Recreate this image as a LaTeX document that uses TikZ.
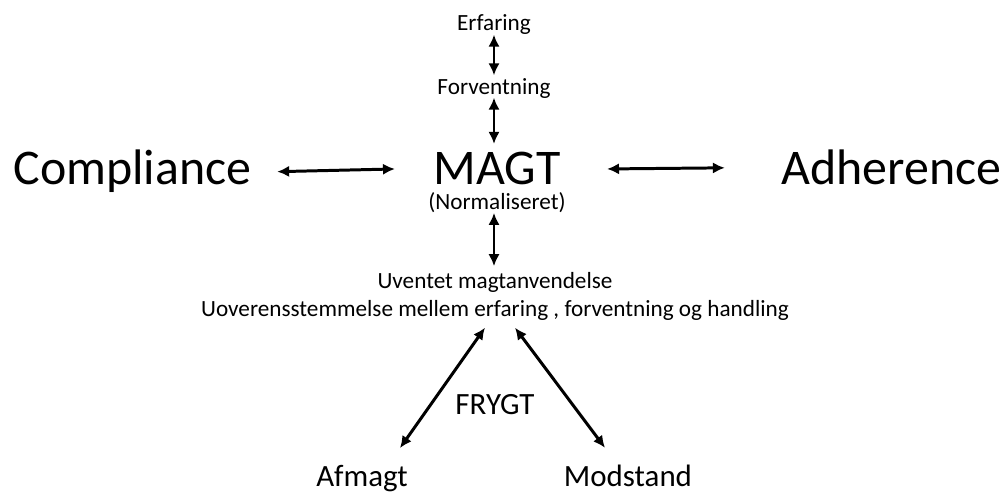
\documentclass[tikz,border=0pt]{standalone}
\usepackage{fontspec}
\setmainfont{Carlito}
\usepackage{tikz}
\usetikzlibrary{positioning,calc,arrows.meta}
\definecolor{MagtBlack}{RGB}{0,0,0}
\tikzset{
    bigword/.style={inner sep=0pt, font=\fontsize{14.2}{16}\selectfont, text=MagtBlack},
    smallword/.style={inner sep=0pt, font=\fontsize{6.6}{8}\selectfont, text=MagtBlack},
    fearword/.style={inner sep=0pt, font=\fontsize{8.8}{10}\selectfont, text=MagtBlack},
    dblarrow/.style={draw=MagtBlack, line width=0.85pt, {Latex[length=3.4pt,width=3.2pt]}-{Latex[length=3.4pt,width=3.2pt]}}
}
\begin{document}
\begin{tikzpicture}
        % fast ramme (samme proportioner som forlaegget)
        \useasboundingbox (-4.94,1.68) rectangle (5.13,-3.24);

        % --- MIDTERSTE RAEKKE ---
        \node[bigword, anchor=base] (magt) at (0.03,-0.17) {MAGT};
        \node[bigword, anchor=base] (compl) at (-3.615,-0.17) {Compliance};
        \node[bigword, anchor=base] (adher) at (3.975,-0.17) {Adherence};
        \node[smallword, anchor=base] (norm) at (0.03,-0.42) {(Normaliseret)};

        % --- OVER MAGT ---
        \node[smallword, anchor=base] (forv) at (0,0.73) {Forventning};
        \node[smallword, anchor=base] (erf) at (0,1.37) {Erfaring};

        % --- UNDER MAGT ---
        \node[smallword, anchor=base] (uvent) at (0.01,-1.21) {Uventet magtanvendelse};
        \node[smallword, anchor=base] (uover) at (0.01,-1.49) {Uoverensstemmelse mellem erfaring , forventning og handling};
        \node[fearword, anchor=base] (frygt) at (0.01,-2.47) {FRYGT};
        \node[fearword, anchor=base] (afmagt) at (-1.32,-3.19) {Afmagt};
        \node[fearword, anchor=base] (modst) at (1.34,-3.19) {Modstand};

        % --- PILE ---
        \draw[dblarrow] ([yshift=0.01cm]erf.south) -- ([yshift=0.03cm]forv.north);
        \draw[dblarrow] ([yshift=0.02cm]forv.south) -- ([yshift=0.08cm]magt.north -| forv.south);
        \draw[dblarrow] ([yshift=0.01cm]norm.south -| forv.south) -- ([yshift=0.06cm]uvent.north -| forv.south);
        \draw[dblarrow] ([xshift=0.25cm]compl.east) -- ([xshift=-0.38cm]magt.west);
        \draw[dblarrow] ([xshift=0.46cm]magt.east) -- ([xshift=-0.56cm]adher.west);
        \draw[dblarrow] ([shift={(0.38,0.17)}]afmagt.north) -- ([shift={(-0.1,-0.06)}]uover.south);
        \draw[dblarrow] ([shift={(-0.23,0.17)}]modst.north) -- ([shift={(0.2,-0.06)}]uover.south);
    \end{tikzpicture}
\end{document}
